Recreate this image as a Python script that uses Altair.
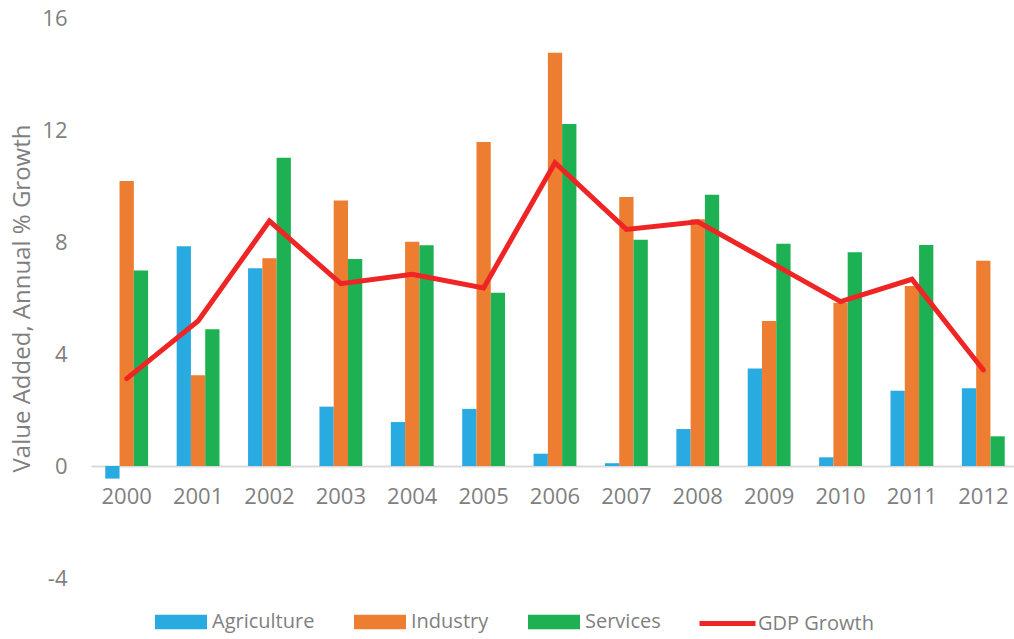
import altair as alt
import pandas as pd

years = [str(y) for y in range(2000, 2013)]
agriculture = [-0.45, 7.85, 7.06, 2.12, 1.57, 2.04, 0.44, 0.10, 1.32, 3.48, 0.31, 2.69, 2.78]
industry = [10.18, 3.24, 7.42, 9.48, 8.01, 11.57, 14.76, 9.61, 8.81, 5.18, 5.83, 6.43, 7.33]
services = [6.98, 4.88, 11.01, 7.39, 7.88, 6.19, 12.21, 8.08, 9.69, 7.94, 7.63, 7.89, 1.06]
gdp_growth = [3.12, 5.18, 8.75, 6.51, 6.85, 6.36, 10.83, 8.45, 8.72, 7.30, 5.87, 6.67, 3.43]

sectors = ["Agriculture", "Industry", "Services"]
sector_colors = ["#29ABE2", "#ED7D31", "#1DB154"]
gdp_label = "GDP Growth"
gdp_color = "#EE2524"
y_ticks = [-4, 0, 4, 8, 12, 16]

FONT = "Open Sans"
GREY = "#7F7F7F"

rows = []
for name, vals in zip(sectors, [agriculture, industry, services]):
    for yr, v in zip(years, vals):
        rows.append({"Year": yr, "Sector": name, "Value": v})
bars_df = pd.DataFrame(rows)
gdp_df = pd.DataFrame({"Year": years, "Value": gdp_growth, "Series": [gdp_label] * len(years)})

x_scale = alt.Scale(domain=years, range=[0, 928], paddingInner=0.4, paddingOuter=0.2)
y_scale = alt.Scale(domain=[-4, 16], nice=False, zero=False)

x_axis = alt.Axis(
    title=None, labelAngle=0, ticks=False, tickSize=0, grid=False,
    domain=True, domainColor="#D9D9D9", domainWidth=2, offset=-112,
    labelFont=FONT, labelFontSize=22, labelColor=GREY, labelPadding=20,
)
y_axis = alt.Axis(
    title="Value Added, Annual % Growth", values=y_ticks, grid=False, domain=False,
    ticks=False, tickSize=0, labelFont=FONT, labelFontSize=22, labelColor=GREY,
    labelExpr="toString(datum.value)",
    labelPadding=24, titleFont=FONT, titleFontSize=24, titleFontWeight="normal",
    titleColor=GREY, titleAngle=270, titleBaseline="middle", titleAlign="center",
    titleX=-69, titleY=280,
)

rect_path = "M-1,-0.28L1,-0.28L1,0.28L-1,0.28Z"

bars = alt.Chart(bars_df).mark_bar().encode(
    x=alt.X("Year:N", scale=x_scale, axis=x_axis, sort=years),
    xOffset=alt.XOffset("Sector:N", sort=sectors, scale=alt.Scale(domain=sectors, paddingInner=0, paddingOuter=0)),
    y=alt.Y("Value:Q", scale=y_scale, axis=y_axis),
    color=alt.Color(
        "Sector:N",
        scale=alt.Scale(domain=sectors, range=sector_colors),
        legend=alt.Legend(
            title=None, orient="none", direction="horizontal", legendX=64, legendY=578,
            symbolType=rect_path, symbolSize=2704, symbolStrokeWidth=0, symbolOpacity=1,
            labelFont=FONT, labelFontSize=20, labelColor=GREY, labelOffset=5,
            columnPadding=39, padding=0,
        ),
    ),
)

line = alt.Chart(gdp_df).mark_line(strokeWidth=5, strokeCap="round", strokeJoin="miter").encode(
    x=alt.X("Year:N", scale=x_scale, sort=years),
    y=alt.Y("Value:Q", scale=y_scale),
    stroke=alt.Stroke(
        "Series:N",
        scale=alt.Scale(domain=[gdp_label], range=[gdp_color]),
        legend=alt.Legend(
            title=None, orient="none", direction="horizontal", legendX=606, legendY=575,
            symbolType="stroke", symbolSize=3136, symbolStrokeWidth=5,
            labelFont=FONT, labelFontSize=20, labelColor=GREY, labelOffset=0, padding=0,
        ),
    ),
)

chart = alt.layer(bars, line).properties(
    width=923, height=560,
    background="white",
    autosize=alt.AutoSizeParams(type="none"),
    padding={"left": 91, "top": 18, "right": 0, "bottom": 61},
).configure_view(stroke=None)

chart.save("out.html", embed_options={"renderer": "svg", "actions": False})
